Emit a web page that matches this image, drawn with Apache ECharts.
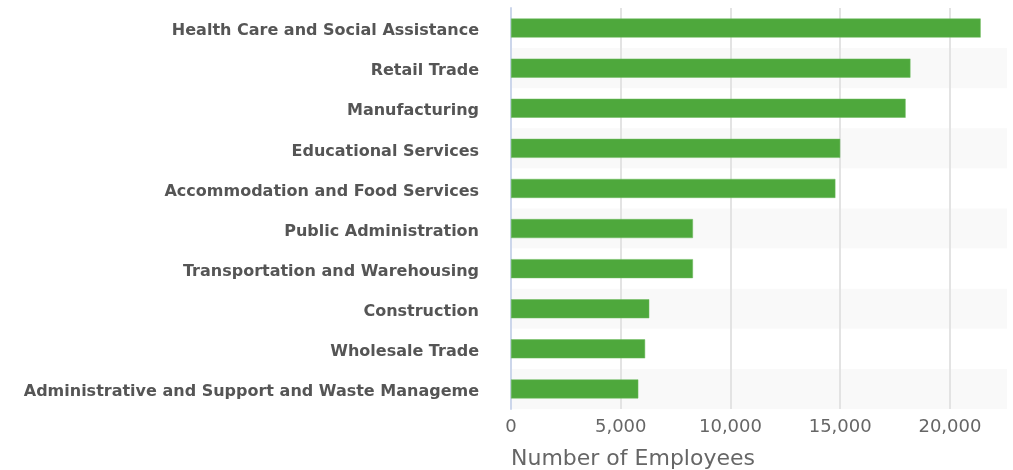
<!DOCTYPE html>
<html>
<head>
<meta charset="utf-8">
<script src="https://cdn.jsdelivr.net/npm/echarts@6/dist/echarts.min.js"></script>
<style>
  html, body { margin: 0; padding: 0; background: #ffffff; }
  #chart { width: 1013px; height: 470px; }
</style>
</head>
<body>
<div id="chart"></div>
<script>
// Industries, listed top to bottom
const industries = [
  'Health Care and Social Assistance',
  'Retail Trade',
  'Manufacturing',
  'Educational Services',
  'Accommodation and Food Services',
  'Public Administration',
  'Transportation and Warehousing',
  'Construction',
  'Wholesale Trade',
  'Administrative and Support and Waste Manageme'
];

// Employees per industry
const employees = [21400, 18200, 17980, 15000, 14780, 8290, 8290, 6300, 6110, 5800];

const axisTitle = 'Number of Employees';

const chart = echarts.init(document.getElementById('chart'));
chart.setOption({
  animation: false,
  grid: { left: 511, right: 6, top: 8, bottom: 60, containLabel: false },
  xAxis: {
    type: 'value',
    min: 0,
    max: 22600,
    interval: 5000,
    name: axisTitle,
    nameLocation: 'start',
    nameGap: 0,
    nameTextStyle: {
      color: '#666666', fontSize: 22, fontFamily: 'DejaVu Sans',
      align: 'left', verticalAlign: 'top', padding: [39, 0, 0, 0]
    },
    axisLine: { show: false },
    axisTick: { show: false },
    axisLabel: {
      color: '#666666', fontSize: 18, fontFamily: 'DejaVu Sans', margin: 9,
      showMaxLabel: false,
      formatter: v => v.toLocaleString('en-US')
    },
    splitLine: { show: true, showMaxLine: false, lineStyle: { color: '#e3e3e3', width: 2 } }
  },
  yAxis: {
    type: 'category',
    inverse: true,
    data: industries,
    axisLine: { show: true, lineStyle: { color: '#ccd6eb', width: 2 } },
    axisTick: { show: false },
    axisLabel: {
      color: '#555555', fontSize: 16, fontWeight: 'bold', fontFamily: 'DejaVu Sans', margin: 32,
      verticalAlign: 'top', lineHeight: 6
    },
    splitArea: { show: true, areaStyle: { color: ['#ffffff', '#f9f9f9'] } }
  },
  series: [{
    type: 'bar',
    data: employees,
    barWidth: 19,
    itemStyle: { color: '#4ea83c', borderColor: '#6cbb5c', borderWidth: 0.5 }
  }]
});
</script>
</body>
</html>
